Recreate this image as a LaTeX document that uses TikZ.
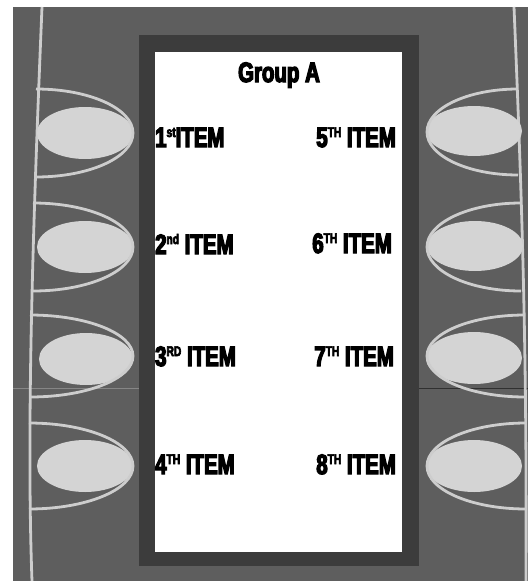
\documentclass[tikz,border=0pt]{standalone}
\usepackage{fontspec}
\usepackage{tikz}
\newfontfamily\itemfont[FakeStretch=0.73,FakeBold=4.5]{Liberation Sans}
\newcommand{\itemsup}[1]{\raisebox{10pt}{\fontsize{14}{14}\selectfont #1}}
\definecolor{panel}{RGB}{94,94,94}
\definecolor{bezel}{RGB}{60,60,60}
\definecolor{btn}{RGB}{212,212,212}
\definecolor{rim}{RGB}{205,205,205}

\begin{document}
\begin{tikzpicture}[x=1pt,y=-1pt]
  \tikzstyle{itemtext}=[font={\itemfont\bfseries\fontsize{28}{28}\selectfont},inner sep=0pt]
  \tikzstyle{knob}=[fill=btn]
  \tikzstyle{ring}=[draw=rim,line width=2.8pt]
  \useasboundingbox (0,0) rectangle (528,581);
  \fill[white] (0,0) rectangle (528,581);
  \fill[panel] (13,7) rectangle (528,581);
  \fill[bezel] (139,35) rectangle (419,566);
  \fill[white] (155,52) rectangle (402,552);
  \draw[panel!75!white,line width=0.8pt] (13,388) -- (139,388);
  \draw[bezel!80!black,line width=0.8pt] (419,388) -- (528,388);
  \draw[ring] (42,7) .. controls (34,200) and (26,420) .. (32,581);
  \draw[ring] (514,7) .. controls (522,200) and (527,350) .. (526,581);
  \fill[knob] (85,133) ellipse[x radius=48pt,y radius=26pt];
  \fill[knob] (85,247) ellipse[x radius=48pt,y radius=26pt];
  \fill[knob] (86,359) ellipse[x radius=47pt,y radius=26pt];
  \fill[knob] (85,466) ellipse[x radius=48pt,y radius=26pt];
  \fill[knob] (474,131) ellipse[x radius=48pt,y radius=25pt];
  \fill[knob] (475,246) ellipse[x radius=48pt,y radius=25pt];
  \fill[knob] (474,358) ellipse[x radius=48pt,y radius=26pt];
  \fill[knob] (474,466) ellipse[x radius=48pt,y radius=26pt];
  \draw[ring] (36,89) arc[start angle=90,end angle=-90,x radius=97pt,y radius=44pt];
  \draw[ring] (33,203) arc[start angle=90,end angle=-90,x radius=100pt,y radius=44pt];
  \draw[ring] (30,315) arc[start angle=90,end angle=-90,x radius=103pt,y radius=41pt];
  \draw[ring] (29,423) arc[start angle=90,end angle=-90,x radius=104pt,y radius=43pt];
  \draw[ring] (518,89) arc[start angle=90,end angle=270,x radius=91pt,y radius=43pt];
  \draw[ring] (521,203) arc[start angle=90,end angle=270,x radius=94pt,y radius=44pt];
  \draw[ring] (525,315) arc[start angle=90,end angle=270,x radius=98pt,y radius=41pt];
  \draw[ring] (526,423) arc[start angle=90,end angle=270,x radius=99pt,y radius=43pt];
  \node[itemtext,anchor=base] (grp) at (279,82) {Group A};
  \node[itemtext,anchor=base west] (i1) at (155,147) {1\itemsup{st}ITEM};
  \node[itemtext,anchor=base west] (i2) at (155,254) {2\itemsup{nd} ITEM};
  \node[itemtext,anchor=base west] (i3) at (155,366) {3\itemsup{RD} ITEM};
  \node[itemtext,anchor=base west] (i4) at (155,474) {4\itemsup{TH} ITEM};
  \node[itemtext,anchor=base east] (i5) at (396,147) {5\itemsup{TH} ITEM};
  \node[itemtext,anchor=base east] (i6) at (392,253) {6\itemsup{TH} ITEM};
  \node[itemtext,anchor=base east] (i7) at (394,366) {7\itemsup{TH} ITEM};
  \node[itemtext,anchor=base east] (i8) at (396,474) {8\itemsup{TH} ITEM};
\end{tikzpicture}
\end{document}
